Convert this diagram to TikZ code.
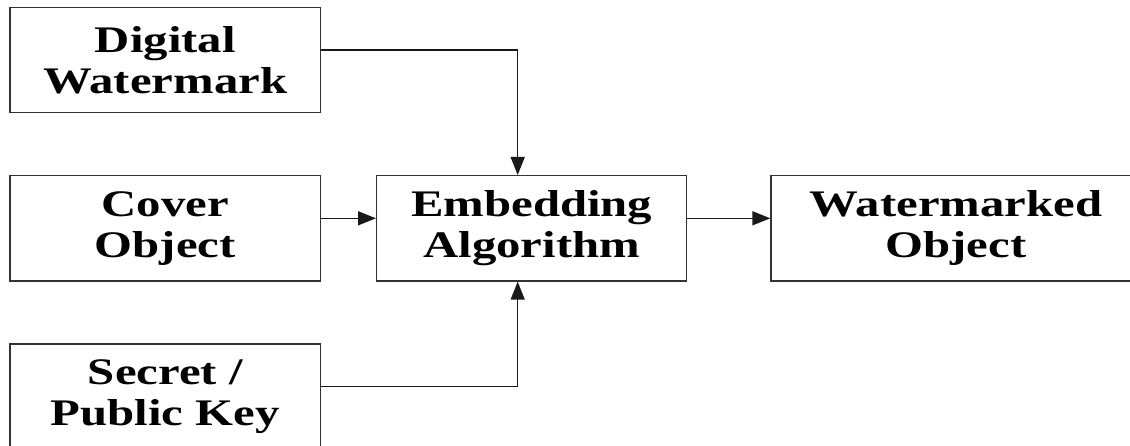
\documentclass[tikz,border=0pt]{standalone}
\usepackage{fontspec}
\setmainfont{Liberation Serif}[FakeStretch=1.3]
\usetikzlibrary{arrows.meta}
\begin{document}
\begin{tikzpicture}[x=1pt,y=-1pt,
  box/.style={draw=black!80, line width=1.4pt, inner sep=0pt, align=center,
    font=\bfseries\fontsize{37.5}{41}\selectfont},
  conn/.style={draw=black!90, line width=1.5pt, -{Triangle[length=18pt,width=14pt]}}]
\useasboundingbox (0,0) rectangle (1130,446);
\clip (0,0) rectangle (1130,446);
\fill[white] (0,0) rectangle (1130,446);
\node[box, minimum width=310.7pt, minimum height=105pt] (dw) at (165.3,60) {Digital\\Watermark};
\node[box, minimum width=310.7pt, minimum height=105.3pt] (co) at (165.3,228.3) {Cover\\Object};
\node[box, minimum width=310.7pt, minimum height=105pt] (sk) at (165.3,396.5) {Secret /\\Public Key};
\node[box, minimum width=310pt, minimum height=105.3pt] (ea) at (531.7,228.3) {Embedding\\Algorithm};
\node[box, minimum width=370pt, minimum height=105.3pt] (wo) at (956,228.3) {Watermarked\\Object};
\draw[conn] ([yshift=10pt]dw.east) -| ([xshift=-14pt]ea.north);
\draw[conn] ([yshift=10pt]co.east) -- ([yshift=10pt]ea.west);
\draw[conn] ([yshift=10pt]ea.east) -- ([yshift=10pt]wo.west);
\draw[conn] ([yshift=10pt]sk.east) -| ([xshift=-14pt]ea.south);
\end{tikzpicture}
\end{document}
